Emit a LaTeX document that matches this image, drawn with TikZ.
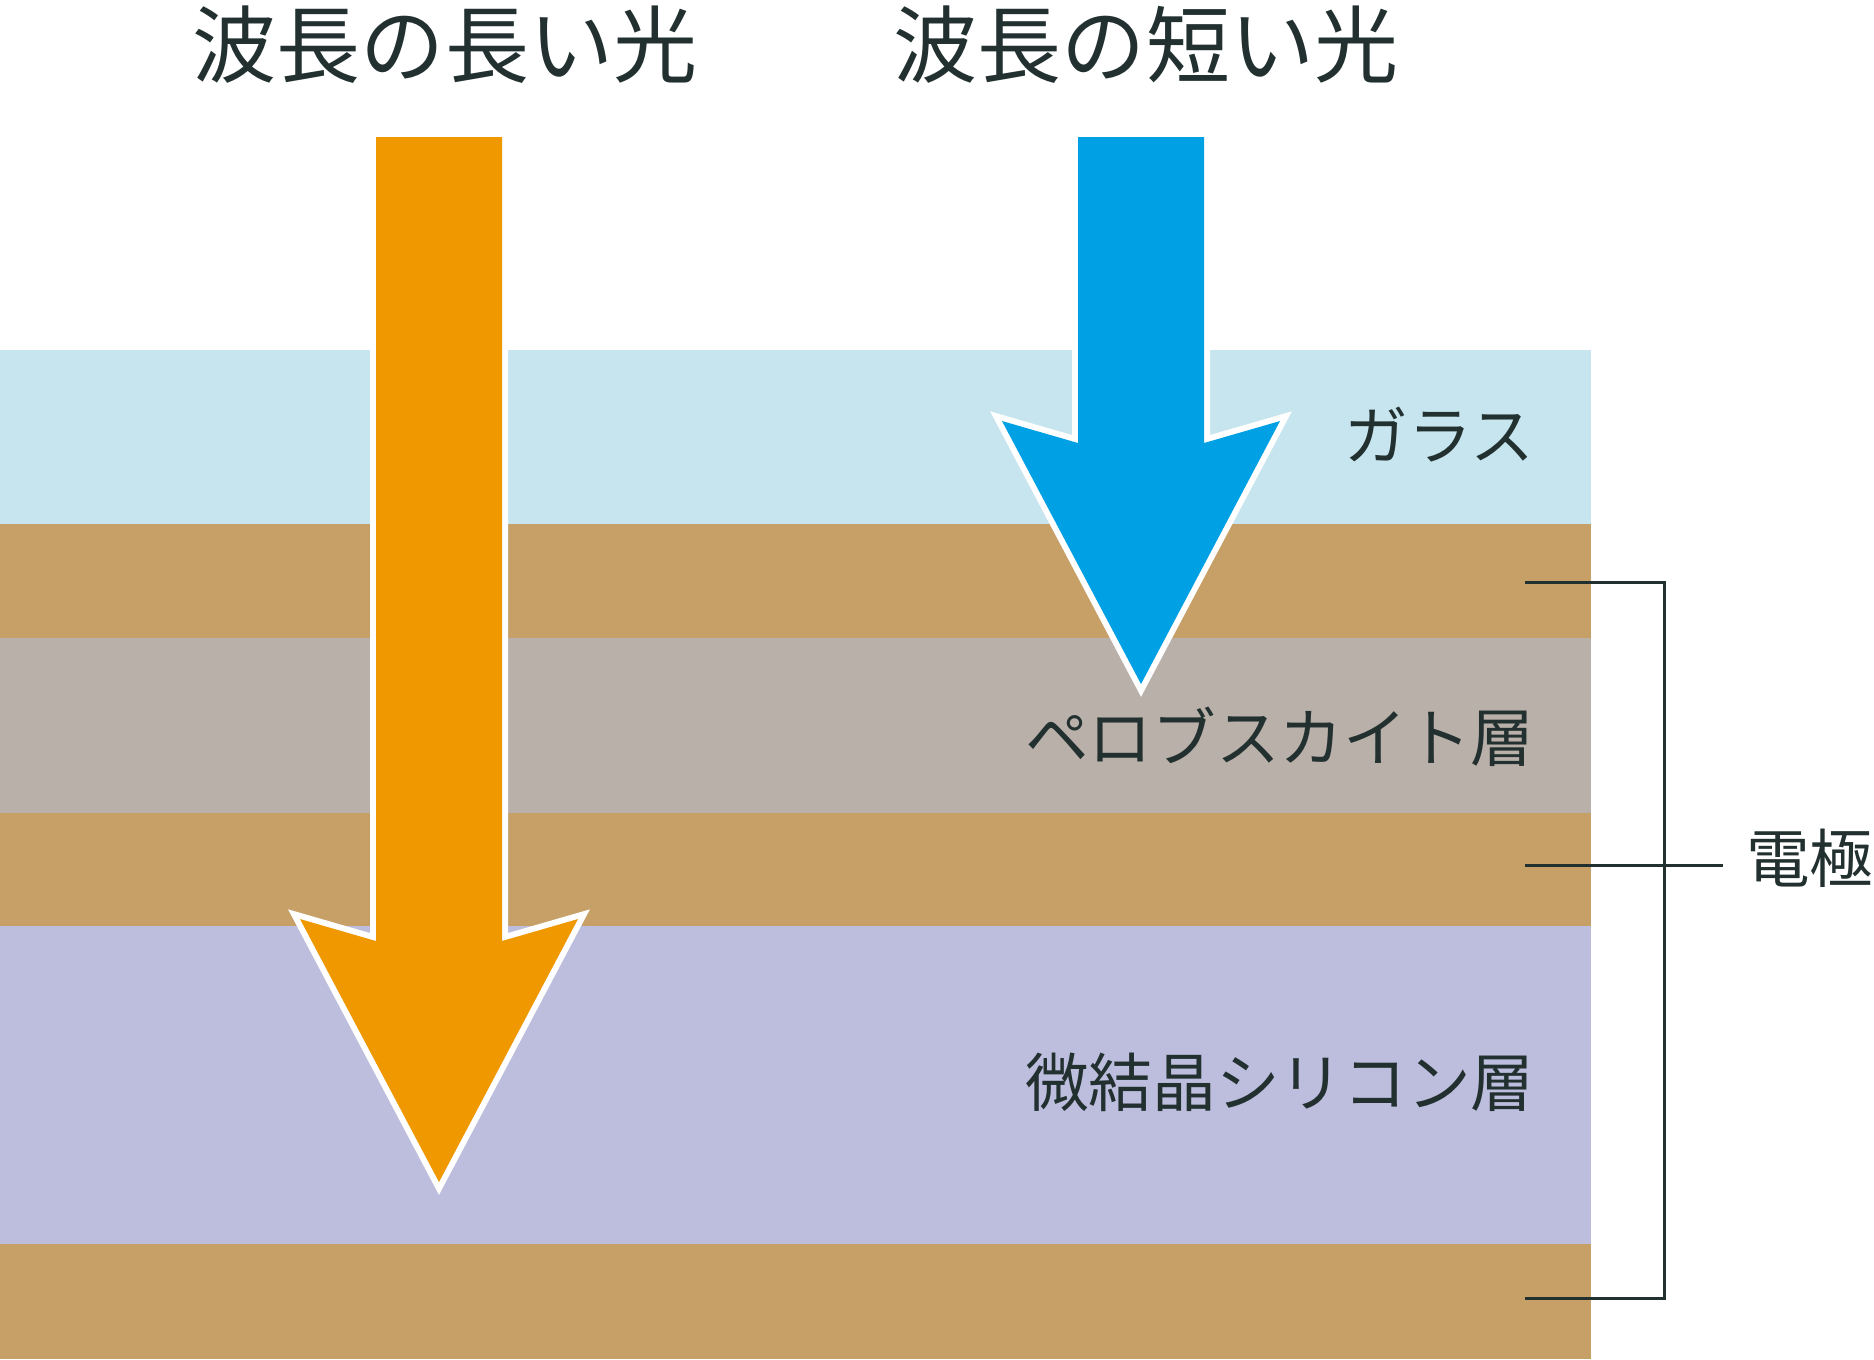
\documentclass[tikz,border=0pt]{standalone}
\usepackage{fontspec}
\setmainfont{Noto Sans CJK JP}
\definecolor{ink}{RGB}{34,48,48}
\definecolor{glass}{RGB}{198,229,239}
\definecolor{electrode}{RGB}{198,160,103}
\definecolor{perov}{RGB}{186,176,170}
\definecolor{silicon}{RGB}{189,190,221}
\definecolor{longlight}{RGB}{239,152,0}
\definecolor{shortlight}{RGB}{0,161,228}
% arrow: #1 = centre x, #2 = y of the inner corners
\newcommand{\beamarrow}[2]{%
  ({#1-63},137) -- ({#1+63},137) -- ({#1+63},#2) -- ({#1+139},{#2-22})
  -- (#1,{#2+241}) -- ({#1-139},{#2-22}) -- ({#1-63},#2) -- cycle}
\begin{document}
\begin{tikzpicture}[x=0.01cm,y=-0.01cm,
    ttl/.style={inner sep=0pt,text=ink,font=\fontsize{23.9}{28}\selectfont},
    lbl/.style={anchor=east,inner sep=0pt,text=ink,font=\fontsize{18.1}{21}\selectfont},
    beam/.style={fill=#1,preaction={draw=white,line width=0.12cm}},
    brace/.style={draw=ink,line width=0.03cm}]
  \useasboundingbox (0,0) rectangle (1874,1359);

  % layers
  \fill[glass] (0,350) rectangle (1591,524);
  \fill[electrode] (0,524) rectangle (1591,638);
  \fill[perov] (0,638) rectangle (1591,813);
  \fill[electrode] (0,813) rectangle (1591,926);
  \fill[silicon] (0,926) rectangle (1591,1244);
  \fill[electrode] (0,1244) rectangle (1591,1359);

  % light
  \path[beam=longlight] \beamarrow{439}{941};
  \path[beam=shortlight] \beamarrow{1141}{443};

  \node[ttl] (long) at (445,45) {波長の長い光};
  \node[ttl] (short) at (1146,45) {波長の短い光};

  \node[lbl] (glas) at (1535,435) {ガラス};
  \node[lbl] (pero) at (1535,737) {ペロブスカイト層};
  \node[lbl] (sili) at (1535,1082) {微結晶シリコン層};
  \node[lbl] (elec) at (1874,858) {電極};

  % electrode bracket
  \coordinate (e1) at (1525,582);
  \coordinate (e2) at (1525,865);
  \coordinate (e3) at (1525,1298);
  \coordinate (k1) at (1664,582);
  \coordinate (k3) at (1664,1298);
  \coordinate (k2) at (1723,865);
  \draw[brace] (e1) -- (k1) -- (k3) -- (e3);
  \draw[brace] (e2) -- (k2);
\end{tikzpicture}
\end{document}
